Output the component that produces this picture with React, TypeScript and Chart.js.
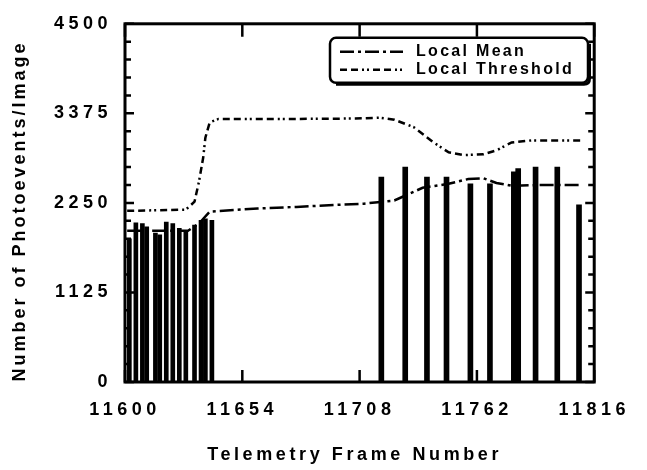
import React, { useEffect, useRef } from "react";
import { Chart, registerables } from "chart.js";

Chart.register(...registerables);

// ---------- data ----------
const X_MIN = 11600;
const X_MAX = 11816;
const Y_MIN = 0;
const Y_MAX = 4500;
const X_TICKS = [11600, 11654, 11708, 11762, 11816];
const Y_TICKS = [0, 1125, 2250, 3375, 4500];
const Y_MINOR_PER_MAJOR = 5;

const EARLY_BAR_FRAMES = [11602, 11605, 11608, 11610, 11614, 11616, 11619, 11622, 11625, 11628, 11632, 11635, 11637, 11640];
const EARLY_BAR_VALUES = [1800, 2000, 1990, 1950, 1870, 1850, 2010, 1990, 1930, 1890, 1970, 2030, 2050, 2030];
const LATE_BAR_FRAMES = [11718, 11729, 11739, 11748, 11759, 11768, 11779, 11781, 11789, 11799, 11809];
const LATE_BAR_VALUES = [2575, 2700, 2575, 2575, 2490, 2490, 2640, 2680, 2700, 2700, 2225];

const MEAN_FRAMES = [11601, 11629, 11634, 11639, 11661, 11679, 11697, 11710, 11724, 11737, 11749, 11758, 11765, 11771, 11778, 11792, 11810];
const MEAN_VALUES = [1900, 1900, 1990, 2140, 2180, 2200, 2225, 2240, 2280, 2440, 2490, 2550, 2560, 2500, 2465, 2475, 2475];

const THRESH_FRAMES = [11601, 11628, 11632, 11634, 11636, 11637, 11639, 11643, 11679, 11706, 11717, 11724, 11733, 11742, 11749, 11756, 11765, 11771, 11778, 11787, 11810];
const THRESH_VALUES = [2150, 2165, 2265, 2510, 2820, 3070, 3260, 3305, 3305, 3310, 3320, 3295, 3200, 3010, 2885, 2850, 2860, 2910, 3010, 3035, 3035];

const LEGEND_MEAN = "Local Mean";
const LEGEND_THRESH = "Local Threshold";
const X_TITLE = "Telemetry Frame Number";
const Y_TITLE = "Number of Photoevents/Image";

const FONT = '"Liberation Sans", Arial, Helvetica, sans-serif';
const MEAN_DASH = [14, 4, 3, 4];
const THRESH_DASH = [7, 4, 7, 4, 2, 3, 2, 4];

const decorPlugin = {
  id: "decor",
  beforeUpdate(chart: any) {
    chart.ctx.letterSpacing = "4.5px";
  },
  beforeDraw(chart: any) {
    chart.ctx.letterSpacing = "4.5px";
  },
  afterDraw(chart: any) {
    const ctx = chart.ctx;
    const { left, right, top, bottom } = chart.chartArea;
    const xs = chart.scales.x;
    const ys = chart.scales.y;
    ctx.save();
    ctx.setLineDash([]);
    ctx.strokeStyle = "#000";
    // frame
    ctx.lineWidth = 3;
    ctx.strokeRect(left, top, right - left, bottom - top);
    // y tick marks (inward, mirrored)
    ctx.lineWidth = 2.5;
    ys.ticks.forEach((t: any) => {
      const py = ys.getPixelForValue(t.value);
      const len = Y_TICKS.includes(t.value) ? 9 : 6;
      ctx.beginPath();
      ctx.moveTo(left, py);
      ctx.lineTo(left + len, py);
      ctx.moveTo(right, py);
      ctx.lineTo(right - len, py);
      ctx.stroke();
    });
    // x tick marks (inward, mirrored)
    xs.ticks.forEach((t: any) => {
      const px = xs.getPixelForValue(t.value);
      ctx.beginPath();
      ctx.moveTo(px, bottom);
      ctx.lineTo(px, bottom - 12);
      ctx.moveTo(px, top);
      ctx.lineTo(px, top + 13);
      ctx.stroke();
    });
    // axis titles
    ctx.fillStyle = "#000";
    ctx.font = `bold 18px ${FONT}`;
    ctx.textAlign = "center";
    ctx.textBaseline = "middle";
    ctx.letterSpacing = "3.6px";
    ctx.fillText(X_TITLE, (left + right) / 2 - 5, bottom + 73);
    ctx.letterSpacing = "3px";
    ctx.save();
    ctx.translate(20, (top + bottom) / 2 + 8);
    ctx.rotate(-Math.PI / 2);
    ctx.fillText(Y_TITLE, 0, 0);
    ctx.restore();

    // legend box
    const bx = left + 205;
    const by = top + 14;
    const bw = 258;
    const bh = 45;
    ctx.beginPath();
    ctx.roundRect(bx, by, bw, bh, 6);
    ctx.fillStyle = "#fff";
    ctx.fill();
    ctx.lineWidth = 2.5;
    ctx.stroke();
    ctx.beginPath();
    ctx.lineWidth = 3;
    ctx.moveTo(bx + 6, by + bh + 1.5);
    ctx.lineTo(bx + bw - 4, by + bh + 1.5);
    ctx.quadraticCurveTo(bx + bw + 1.5, by + bh + 1.5, bx + bw + 1.5, by + bh - 4);
    ctx.lineTo(bx + bw + 1.5, by + 6);
    ctx.stroke();

    const lineDs = chart.data.datasets.filter((d: any) => d.type === "line");
    ctx.font = `bold 16px ${FONT}`;
    ctx.letterSpacing = "2.3px";
    ctx.textAlign = "left";
    lineDs.forEach((d: any, i: number) => {
      const ly = by + 14 + i * 18;
      ctx.beginPath();
      ctx.setLineDash(d.borderDash);
      ctx.lineWidth = 2.5;
      ctx.moveTo(bx + 10, ly);
      ctx.lineTo(bx + 73, ly);
      ctx.stroke();
      ctx.setLineDash([]);
      ctx.fillStyle = "#000";
      ctx.fillText(d.label, bx + 86, ly);
    });
    ctx.restore();
  },
};

export default function App() {
  const canvasRef = useRef<HTMLCanvasElement | null>(null);

  useEffect(() => {
    const canvas = canvasRef.current;
    if (!canvas) return;
    const toPts = (xs: number[], ys: number[]) => xs.map((f, i) => ({ x: f, y: ys[i] }));

    const chart = new Chart(canvas, {
      type: "bar",
      data: {
        datasets: [
          {
            type: "line",
            label: LEGEND_MEAN,
            data: toPts(MEAN_FRAMES, MEAN_VALUES),
            borderColor: "#000",
            borderWidth: 2.5,
            borderDash: MEAN_DASH,
            pointRadius: 0,
            tension: 0,
            fill: false,
          } as any,
          {
            type: "line",
            label: LEGEND_THRESH,
            data: toPts(THRESH_FRAMES, THRESH_VALUES),
            borderColor: "#000",
            borderWidth: 2.5,
            borderDash: THRESH_DASH,
            pointRadius: 0,
            tension: 0,
            fill: false,
          } as any,
          {
            type: "bar",
            label: "Early frames",
            data: toPts(EARLY_BAR_FRAMES, EARLY_BAR_VALUES),
            backgroundColor: "#000",
            borderWidth: 0,
            barThickness: 4,
            grouped: false,
          } as any,
          {
            type: "bar",
            label: "Late frames",
            data: toPts(LATE_BAR_FRAMES, LATE_BAR_VALUES),
            backgroundColor: "#000",
            borderWidth: 0,
            barThickness: 5,
            grouped: false,
          } as any,
        ],
      },
      options: {
        responsive: false,
        animation: false,
        devicePixelRatio: 1,
        layout: { padding: { top: 20, right: 43, left: 0, bottom: 0 } },
        plugins: { legend: { display: false }, tooltip: { enabled: false } },
        scales: {
          x: {
            type: "linear",
            min: X_MIN,
            max: X_MAX,
            offset: false,
            grid: { display: false, drawTicks: false },
            border: { display: false },
            afterBuildTicks: (scale: any) => {
              scale.ticks = X_TICKS.map((v) => ({ value: v }));
            },
            afterFit: (scale: any) => {
              scale.height = 88;
            },
            ticks: {
              autoSkip: false,
              maxRotation: 0,
              padding: 17,
              color: "#000",
              font: { family: FONT, size: 18, weight: "bold" },
              callback: (v: any) => String(v),
            },
          },
          y: {
            type: "linear",
            min: Y_MIN,
            max: Y_MAX,
            grid: { display: false, drawTicks: false },
            border: { display: false },
            afterBuildTicks: (scale: any) => {
              const ticks: any[] = [];
              for (let i = 0; i < Y_TICKS.length - 1; i++) {
                const step = (Y_TICKS[i + 1] - Y_TICKS[i]) / Y_MINOR_PER_MAJOR;
                for (let k = 0; k < Y_MINOR_PER_MAJOR; k++) ticks.push({ value: Y_TICKS[i] + k * step });
              }
              ticks.push({ value: Y_TICKS[Y_TICKS.length - 1] });
              scale.ticks = ticks;
            },
            afterFit: (scale: any) => {
              scale.width = 125;
            },
            ticks: {
              autoSkip: false,
              padding: 13,
              color: "#000",
              font: { family: FONT, size: 18, weight: "bold" },
              callback: (v: any) => (Y_TICKS.includes(Number(v)) ? String(v) : ""),
            },
          },
        },
      },
      plugins: [decorPlugin],
    });
    return () => chart.destroy();
  }, []);

  return (
    <div style={{ position: "fixed", left: 0, top: 0, width: 647, height: 470, background: "#fff" }}>
      <canvas ref={canvasRef} width={647} height={470} style={{ width: 647, height: 470, display: "block" }} />
    </div>
  );
}
